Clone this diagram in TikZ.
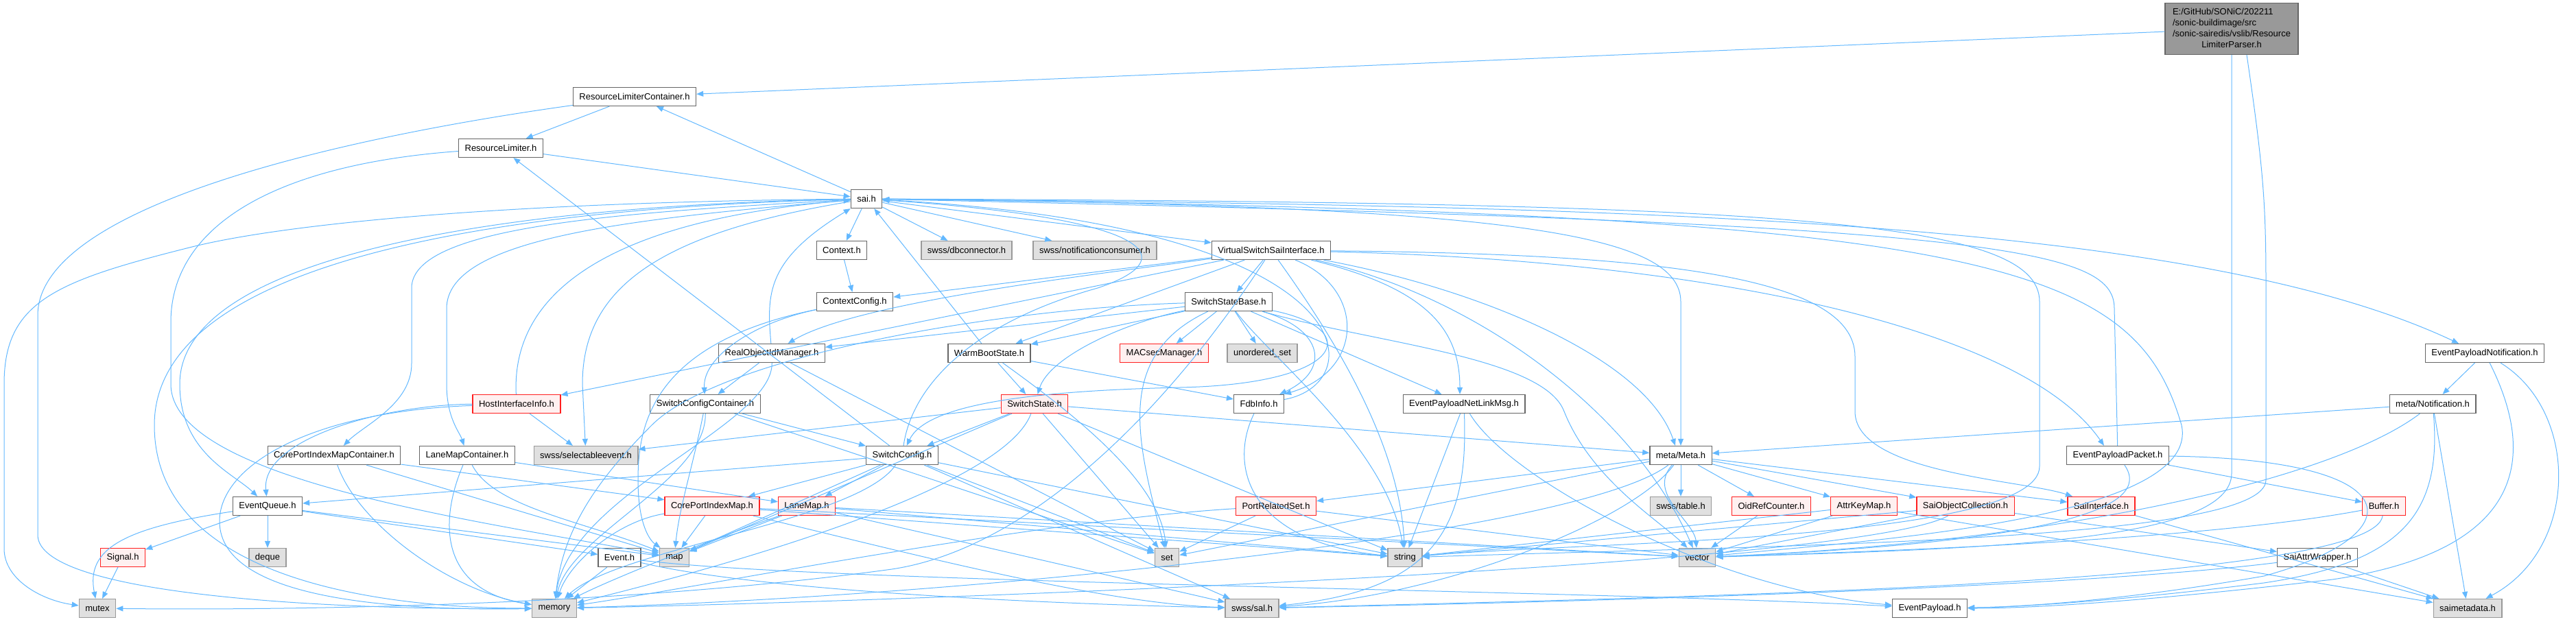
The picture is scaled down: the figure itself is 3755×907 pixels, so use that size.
\documentclass[tikz,border=0pt]{standalone}
\usepackage{fontspec}
\newfontfamily\dotfamily{Liberation Sans}
\usetikzlibrary{arrows.meta}
\definecolor{edgeblue}{HTML}{63B8FF}
\definecolor{boxgray}{HTML}{666666}
\definecolor{extgray}{HTML}{999999}
\definecolor{extfill}{HTML}{E0E0E0}
\definecolor{truncred}{HTML}{FF2020}
\definecolor{truncfill}{HTML}{FFF0F0}
\definecolor{rootfill}{HTML}{999999}

\begin{document}
\begin{tikzpicture}[x=1pt, y=-1pt,
          file/.style={rectangle, draw=boxgray, fill=white, line width=1.3pt,
              minimum height=27pt, inner xsep=9pt, inner ysep=0pt,
              font=\dotfamily\fontsize{13}{16}\selectfont},
          ext/.style={file, draw=extgray, fill=extfill},
          trunc/.style={file, draw=truncred, fill=truncfill},
          rootfile/.style={file, fill=rootfill, minimum height=75pt, inner xsep=11pt},
          dep/.style={-{Triangle[length=10pt,width=8pt]}, draw=edgeblue, line width=1pt}
        ]
        \useasboundingbox (0,0) rectangle (3755,907);

        % files
        \node[rootfile] (root) at (3253,42) {\begin{tabular}{@{}l@{}}E:/GitHub/SONiC/202211\\/sonic-buildimage/src\\/sonic-sairedis/vslib/Resource\\\multicolumn{1}{@{}c@{}}{LimiterParser.h}\end{tabular}};
        \node[file]  (rlc)     at (925,141)  {ResourceLimiterContainer.h};
        \node[file]  (rl)      at (730,216)  {ResourceLimiter.h};
        \node[file]  (sai)     at (1263,290) {sai.h};
        \node[file]  (ctx)     at (1227,365) {Context.h};
        \node[ext]   (dbc)     at (1409,365) {swss/dbconnector.h};
        \node[ext]   (ncons)   at (1596,365) {swss/notificationconsumer.h};
        \node[file]  (vssi)    at (1853,365) {VirtualSwitchSaiInterface.h};
        \node[file]  (ctxcfg)  at (1246,440) {ContextConfig.h};
        \node[file]  (ssb)     at (1791,440) {SwitchStateBase.h};
        \node[file]  (roim)    at (1125,515) {RealObjectIdManager.h};
        \node[file]  (wbs)     at (1442,515) {WarmBootState.h};
        \node[trunc] (macsec)  at (1697,515) {MACsecManager.h};
        \node[ext]   (uset)    at (1840,515) {unordered\_set};
        \node[file]  (epnotif) at (3622,515) {EventPayloadNotification.h};
        \node[trunc] (hii)     at (753,589)  {HostInterfaceInfo.h};
        \node[file]  (scc)     at (1028,589) {SwitchConfigContainer.h};
        \node[trunc] (sstate)  at (1508,589) {SwitchState.h};
        \node[file]  (fdb)     at (1835,589) {FdbInfo.h};
        \node[file]  (epnl)    at (2134,589) {EventPayloadNetLinkMsg.h};
        \node[file]  (notif)   at (3546,589) {meta/Notification.h};
        \node[file]  (cpimc)   at (487,664)  {CorePortIndexMapContainer.h};
        \node[file]  (lmc)     at (681,664)  {LaneMapContainer.h};
        \node[ext]   (selev)   at (854,664)  {swss/selectableevent.h};
        \node[file]  (swcfg)   at (1315,664) {SwitchConfig.h};
        \node[file]  (meta)    at (2450,664) {meta/Meta.h};
        \node[file]  (epp)     at (3087,664) {EventPayloadPacket.h};
        \node[file]  (evq)     at (390,738)  {EventQueue.h};
        \node[trunc] (cpim)    at (1038,738) {CorePortIndexMap.h};
        \node[trunc] (lanemap) at (1176,738) {LaneMap.h};
        \node[trunc] (prs)     at (1860,738) {PortRelatedSet.h};
        \node[ext]   (table)   at (2450,738) {swss/table.h};
        \node[trunc] (oidrc)   at (2582,738) {OidRefCounter.h};
        \node[trunc] (akm)     at (2717,738) {AttrKeyMap.h};
        \node[trunc] (soc)     at (2865,738) {SaiObjectCollection.h};
        \node[trunc] (saiif)   at (3063,738) {SaiInterface.h};
        \node[trunc] (buffer)  at (3475,738) {Buffer.h};
        \node[trunc] (signal)  at (179,813)  {Signal.h};
        \node[ext]   (deque)   at (390,813)  {deque};
        \node[file]  (event)   at (903,813)  {Event.h};
        \node[ext]   (map)     at (983,813)  {map};
        \node[ext]   (set)     at (1701,813) {set};
        \node[ext]   (string)  at (2048,813) {string};
        \node[ext]   (vector)  at (2474,813) {vector};
        \node[file]  (saw)     at (3378,813) {SaiAttrWrapper.h};
        \node[ext]   (mutex)   at (142,887)  {mutex};
        \node[ext]   (memory)  at (808,887)  {memory};
        \node[ext]   (sal)     at (1825,887) {swss/sal.h};
        \node[file]  (epl)     at (2813,887) {EventPayload.h};
        \node[ext]   (saimeta) at (3597,887) {saimetadata.h};

        % includes of the parser
        \draw[dep] (root) -- (rlc);
        \draw[dep] (root) -- (3253,690) .. controls (3253,790) and (2900,800) .. (vector);
        \draw[dep] (root.300) .. controls (3300,250) and (3303,300) .. (3303,420) -- (3303,700) .. controls (3303,790) and (2600,795) .. (string);

        % resource limiter
        \draw[dep] (rlc) -- (rl);
        \draw[dep] (rlc) .. controls (500,200) and (55,300) .. (55,460) -- (55,780) .. controls (55,870) and (500,890) .. (memory);
        \draw[dep] (sai) -- (rlc);
        \draw[dep] (rl) -- (sai);
        \draw[dep] (rl) .. controls (400,240) and (249,330) .. (249,470) -- (249,560) .. controls (249,700) and (700,760) .. (map);

        % sai.h
        \draw[dep] (sai) -- (ctx);
        \draw[dep] (sai) -- (dbc);
        \draw[dep] (sai) -- (ncons);
        \draw[dep] (sai) -- (vssi);
        \draw[dep] (sai) .. controls (2400,300) and (3200,320) .. ([xshift=-38pt]epnotif.north);
        \draw[dep] (sai) .. controls (2200,300) and (2450,340) .. (2450,440) -- (meta);
        \draw[dep] (sai) .. controls (700,300) and (262,380) .. (262,560) .. controls (262,660) and (340,690) .. (evq);
        \draw[dep] (sai) .. controls (700,295) and (400,330) .. (280,360) .. controls (80,410) and (6,440) .. (6,560) -- (6,800) .. controls (6,845) and (60,875) .. (mutex);
        \draw[dep] (sai) .. controls (650,305) and (225,400) .. (225,620) .. controls (225,860) and (600,887) .. (memory);
        \draw[dep] (sai) .. controls (900,310) and (600,330) .. (600,420) -- (600,530) .. controls (600,590) and (530,620) .. (cpimc);
        \draw[dep] (sai) .. controls (900,320) and (651,350) .. (651,450) -- (651,560) .. controls (651,610) and (670,630) .. (lmc);
        \draw[dep] (sai) .. controls (960,340) and (849,420) .. (849,560) -- (selev);
        \draw[dep] (sai) .. controls (2600,295) and (2973,320) .. (2973,440) -- (2973,680) .. controls (2973,790) and (2300,790) .. (string);
        \draw[dep] (sai) .. controls (2900,310) and (3110,380) .. (3180,620) .. controls (3210,760) and (2700,790) .. (vector);
        \draw[dep] (hii) .. controls (745,420) and (900,320) .. (sai);
        \draw[dep] (roim) .. controls (1118,430) and (1115,380) .. (sai);
        \draw[dep] (wbs) -- (sai);
        \draw[dep] (swcfg) .. controls (1330,560) and (1420,470) .. (1600,420) .. controls (1720,380) and (1700,320) .. (sai);
        \draw[dep] (fdb) .. controls (2000,560) and (2000,330) .. (sai);
        \draw[dep] (epp) -- (3082,450) .. controls (3082,360) and (2900,325) .. (sai);

        % context
        \draw[dep] (ctx) -- (ctxcfg);
        \draw[dep] (ctxcfg) .. controls (1100,470) and (1024,520) .. (scc);
        \draw[dep] (ctxcfg) .. controls (950,500) and (930,620) .. (930,700) .. controls (930,770) and (950,790) .. (map);

        % virtual switch
        \draw[dep] (vssi) -- (ctxcfg);
        \draw[dep] (vssi) -- (ssb);
        \draw[dep] (vssi) .. controls (1600,400) and (1250,440) .. (roim);
        \draw[dep] (vssi) -- (wbs);
        \draw[dep] (vssi) -- (hii);
        \draw[dep] (vssi) .. controls (1990,420) and (1990,540) .. (fdb.north east);
        \draw[dep] (vssi) .. controls (2080,420) and (2128,480) .. ([xshift=-6pt]epnl.north);
        \draw[dep] (vssi) .. controls (2500,380) and (2950,480) .. ([xshift=-20pt]epp.north);
        \draw[dep] (vssi) .. controls (2400,370) and (2704,400) .. (2704,520) -- (2704,600) .. controls (2704,690) and (2950,700) .. (saiif);
        \draw[dep] (vssi) .. controls (2150,420) and (2398,520) .. ([xshift=-8pt]meta.north);
        \draw[dep] (vssi) .. controls (1950,500) and (2040,650) .. (string);
        \draw[dep] (vssi) .. controls (2150,430) and (2380,600) .. (vector);
        \draw[dep] (vssi) .. controls (1700,600) and (1500,800) .. (1300,830) .. controls (900,885) and (400,890) .. (mutex);

        % switch state base
        \draw[dep] (ssb) -- (roim);
        \draw[dep] (ssb) -- (wbs);
        \draw[dep] (ssb) -- (macsec);
        \draw[dep] (ssb) -- (uset);
        \draw[dep] (ssb) .. controls (1640,470) and (1530,520) .. (sstate);
        \draw[dep] (ssb) .. controls (1990,480) and (1960,560) .. (1720,565) .. controls (1500,570) and (1350,590) .. (swcfg);
        \draw[dep] (ssb) .. controls (1930,480) and (1940,540) .. (fdb);
        \draw[dep] (ssb) -- (epnl);
        \draw[dep] (ssb) .. controls (1620,520) and (1660,650) .. (set);
        \draw[dep] (ssb) .. controls (1850,520) and (2020,650) .. (string);
        \draw[dep] (ssb) .. controls (2000,500) and (2250,520) .. (2280,600) .. controls (2320,700) and (2420,760) .. (vector);
        \draw[dep] (ssb) .. controls (1450,450) and (1050,520) .. (950,620) .. controls (860,710) and (820,780) .. (memory);

        % object ids and config
        \draw[dep] (roim) -- (scc);
        \draw[dep] (roim) -- (set);
        \draw[dep] (roim) .. controls (1127,620) and (830,720) .. (memory);
        \draw[dep] (scc) -- (swcfg);
        \draw[dep] (scc) .. controls (1010,680) and (990,740) .. (map);
        \draw[dep] (scc) .. controls (1030,700) and (830,780) .. (memory);
        \draw[dep] (scc) -- (set);

        % warm boot and switch state
        \draw[dep] (wbs) -- (sstate);
        \draw[dep] (wbs) -- (fdb);
        \draw[dep] (wbs) .. controls (1560,600) and (1690,700) .. (set);
        \draw[dep] (sstate) -- (swcfg);
        \draw[dep] (sstate) -- (meta);
        \draw[dep] (sstate) -- (selev);
        \draw[dep] (sstate) -- (string);
        \draw[dep] (sstate) -- (set);
        \draw[dep] (sstate) -- (map);
        \draw[dep] (sstate) .. controls (1460,720) and (1000,840) .. (memory);

        % switch config
        \draw[dep] (swcfg) -- (evq);
        \draw[dep] (swcfg) -- (cpim);
        \draw[dep] (swcfg) -- (lanemap);
        \draw[dep] (swcfg) -- (rl);
        \draw[dep] (swcfg) -- (map);
        \draw[dep] (swcfg) -- (set);
        \draw[dep] (swcfg) -- (string);
        \draw[dep] (swcfg) -- (sal);
        \draw[dep] (swcfg) .. controls (1250,760) and (900,800) .. (memory);

        % host interface and containers
        \draw[dep] (hii) -- (selev);
        \draw[dep] (hii) .. controls (560,590) and (380,640) .. (evq);
        \draw[dep] (hii) .. controls (450,600) and (320,680) .. (320,760) .. controls (320,880) and (600,890) .. (memory);
        \draw[dep] (cpimc) -- (cpim);
        \draw[dep] (cpimc) -- (map);
        \draw[dep] (cpimc) .. controls (520,760) and (650,860) .. (memory);
        \draw[dep] (lmc) -- (lanemap);
        \draw[dep] (lmc) .. controls (720,740) and (850,760) .. (map);
        \draw[dep] (lmc) .. controls (640,760) and (640,860) .. (memory);

        % event queue
        \draw[dep] (evq) -- (signal);
        \draw[dep] (evq) -- (deque);
        \draw[dep] (evq) -- (event);
        \draw[dep] (evq) -- (map);
        \draw[dep] (evq) .. controls (180,770) and (125,800) .. (mutex);
        \draw[dep] (signal) -- (mutex);
        \draw[dep] (event) -- (memory);
        \draw[dep] (event) .. controls (1200,850) and (2300,860) .. (epl);
        \draw[dep] (event) .. controls (1100,860) and (1500,880) .. (sal);

        % port maps
        \draw[dep] (cpim) -- (map);
        \draw[dep] (cpim) .. controls (900,760) and (830,820) .. (memory);
        \draw[dep] (cpim) -- (string);
        \draw[dep] (cpim) -- (vector);
        \draw[dep] (cpim) .. controls (1300,800) and (1600,880) .. (sal);
        \draw[dep] (lanemap) -- (map);
        \draw[dep] (lanemap) .. controls (1000,800) and (880,850) .. (memory);
        \draw[dep] (lanemap) -- (string);
        \draw[dep] (lanemap) -- (vector);
        \draw[dep] (lanemap) -- (sal);

        % fdb and netlink
        \draw[dep] (fdb) .. controls (1790,680) and (1820,790) .. (string);
        \draw[dep] (epnl) -- (string);
        \draw[dep] (epnl) .. controls (2140,760) and (2100,860) .. (sal);
        \draw[dep] (epnl) .. controls (2200,700) and (2500,860) .. (epl);

        % meta
        \draw[dep] (meta) -- (prs);
        \draw[dep] (meta) -- (table);
        \draw[dep] (meta) -- (oidrc);
        \draw[dep] (meta) -- (akm);
        \draw[dep] (meta) -- (soc);
        \draw[dep] (meta) -- (saiif);
        \draw[dep] (meta) -- (set);
        \draw[dep] (meta) .. controls (2400,720) and (2470,760) .. (vector);
        \draw[dep] (meta) .. controls (2300,780) and (1400,870) .. (memory);
        \draw[dep] (meta) .. controls (2380,760) and (2100,870) .. (sal);
        \draw[dep] (prs) -- (set);
        \draw[dep] (prs) -- (vector);
        \draw[dep] (prs) .. controls (1500,760) and (1000,860) .. (memory);
        \draw[dep] (oidrc) -- (vector);
        \draw[dep] (akm) -- (vector);
        \draw[dep] (akm) -- (string);
        \draw[dep] (akm) -- (saimeta);
        \draw[dep] (soc) -- (saw);
        \draw[dep] (soc) -- (vector);
        \draw[dep] (soc) -- (string);
        \draw[dep] (soc) .. controls (2700,830) and (1200,880) .. (memory);
        \draw[dep] (saiif) -- (saimeta);
        \draw[dep] (saw) -- (saimeta);
        \draw[dep] (saw) .. controls (3000,860) and (2200,880) .. (sal);

        % notifications and packets
        \draw[dep] (epnotif) -- (notif);
        \draw[dep] (epnotif) .. controls (3690,650) and (3700,800) .. (3400,845) .. controls (3100,880) and (2950,887) .. (epl);
        \draw[dep] (epnotif) .. controls (3760,600) and (3760,800) .. (saimeta);
        \draw[dep] (notif) -- (meta);
        \draw[dep] (notif) .. controls (3400,700) and (3000,790) .. (vector);
        \draw[dep] (notif) -- (saimeta);
        \draw[dep] (notif) .. controls (3560,750) and (3500,820) .. (3300,850) .. controls (3100,875) and (2950,885) .. (epl);
        \draw[dep] (epp) -- (buffer);
        \draw[dep] (epp) .. controls (3520,670) and (3520,780) .. (3300,840) .. controls (3100,875) and (2950,885) .. (epl);
        \draw[dep] (epp) .. controls (3140,740) and (3000,790) .. (vector);
        \draw[dep] (buffer) .. controls (3200,790) and (2700,805) .. (vector);
        \draw[dep] (buffer) .. controls (3460,850) and (2500,870) .. (sal);
      \end{tikzpicture}
\end{document}
